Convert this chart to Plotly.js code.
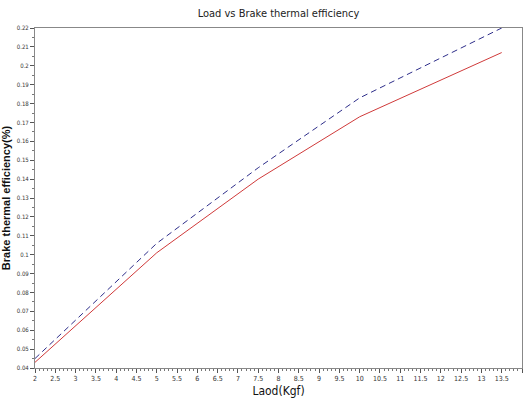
<!DOCTYPE html>
<html>
<head>
<meta charset="utf-8">
<script src="https://cdn.plot.ly/plotly-3.0.1.min.js"></script>
<style>html,body{margin:0;padding:0;background:#fff;}#chart{width:525px;height:400px;}</style>
</head>
<body>
<div id="chart"></div>
<script>
var loads = [2, 5, 7.5, 10, 13.5];
var bteSeries1 = [0.043, 0.101, 0.140, 0.173, 0.207];
var bteSeries2 = [0.045, 0.106, 0.146, 0.183, 0.220];
var xTicks = [2,2.5,3,3.5,4,4.5,5,5.5,6,6.5,7,7.5,8,8.5,9,9.5,10,10.5,11,11.5,12,12.5,13,13.5,14];
var yTicks = [0.04,0.05,0.06,0.07,0.08,0.09,0.1,0.11,0.12,0.13,0.14,0.15,0.16,0.17,0.18,0.19,0.2,0.21,0.22];

var fontFam = "DejaVu Sans Condensed, Liberation Sans Narrow, Arial Narrow, Liberation Sans, Arial, sans-serif";
var traces = [
  {x: loads, y: bteSeries1, mode: 'lines', line: {color: '#d03a3a', width: 1}, showlegend: false},
  {x: loads, y: bteSeries2, mode: 'lines', line: {color: '#2e2e8a', width: 1, dash: '6px,4px'}, showlegend: false}
];
var layout = {
  width: 525, height: 400,
  margin: {l: 35, r: 3, t: 28, b: 32},
  paper_bgcolor: '#fff', plot_bgcolor: '#fff',
  title: {text: 'Load vs Brake thermal efficiency', font: {family: fontFam, size: 11, color: '#222'}, xref: 'paper', x: 0.5, xanchor: 'center', y: 0.968, yanchor: 'middle'},
  xaxis: {
    range: [2, 14], tickvals: xTicks, ticktext: xTicks.map(String),
    ticks: 'outside', ticklen: 4, tickcolor: '#555', tickwidth: 1,
    minor: {dtick: 0.1, ticks: 'outside', ticklen: 2, tickcolor: '#777'},
    showgrid: false, zeroline: false, showline: true, linecolor: '#888', linewidth: 1, mirror: true,
    tickfont: {family: fontFam, size: 7, color: '#333'},
    title: {text: 'Laod(Kgf)', font: {family: fontFam, size: 12, color: '#111'}, standoff: 4}
  },
  yaxis: {
    range: [0.04, 0.22], tickvals: yTicks, ticktext: yTicks.map(String),
    ticks: 'outside', ticklen: 4, tickcolor: '#555', tickwidth: 1,
    minor: {dtick: 0.005, ticks: 'outside', ticklen: 2, tickcolor: '#777'},
    showgrid: false, zeroline: false, showline: true, linecolor: '#888', linewidth: 1, mirror: true,
    tickfont: {family: fontFam, size: 6, color: '#333'},
    title: {text: '<b>Brake thermal efficiency(%)</b>', font: {family: 'Liberation Sans, Arial, sans-serif', size: 11, color: '#111'}, standoff: 3}
  }
};
Plotly.newPlot('chart', traces, layout, {displayModeBar: false, staticPlot: true});
</script>
</body>
</html>
